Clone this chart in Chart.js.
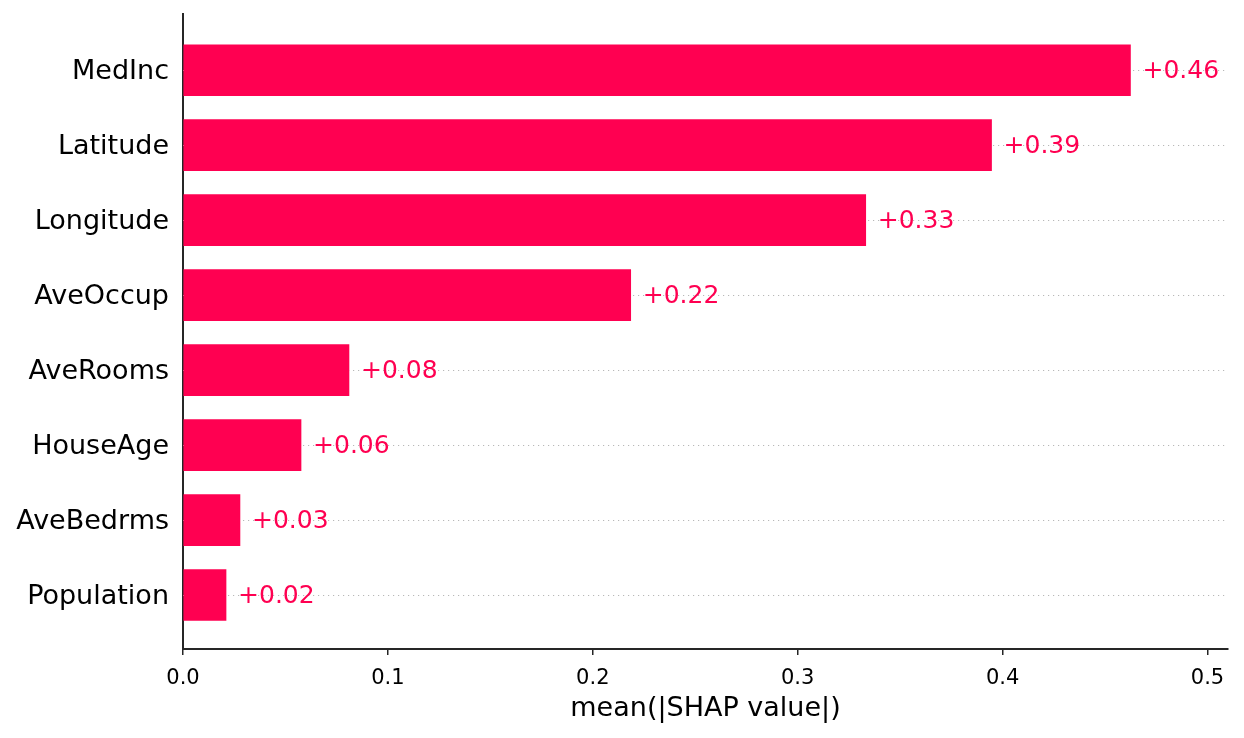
<!DOCTYPE html>
<html>
<head>
<meta charset="utf-8">
<script src="https://cdn.jsdelivr.net/npm/chart.js@4.4.1/dist/chart.umd.min.js"></script>
<style>
  html, body { margin: 0; padding: 0; background: #fff; }
  #wrap { width: 1244px; height: 738px; position: relative; }
</style>
</head>
<body>
<div id="wrap"><canvas id="chart"></canvas></div>
<script>
/* ── data: mean(|SHAP value|) per feature ── */
const FEATURES = ['MedInc', 'Latitude', 'Longitude', 'AveOccup', 'AveRooms', 'HouseAge', 'AveBedrms', 'Population'];
const SHAP_VALUES = [0.4624, 0.3946, 0.3332, 0.2185, 0.0810, 0.0576, 0.0278, 0.0210];
const X_TICKS = [0, 0.1, 0.2, 0.3, 0.4, 0.5];

/* ── styles ── */
const BAR_COLOR  = '#ff0051';
const AXIS_COLOR = '#262626';
const DOT_COLOR  = '#b8b8b8';
const FONT       = "'DejaVu Sans', sans-serif";

/* dotted guide line behind each bar + value text after the bar */
const shapPlugin = {
  id: 'shapPlugin',
  beforeDatasetsDraw(chart) {
    const { ctx, chartArea, scales } = chart;
    ctx.save();
    ctx.strokeStyle = DOT_COLOR;
    ctx.lineWidth = 1;
    ctx.setLineDash([1.2, 3.8]);
    FEATURES.forEach((f, i) => {
      const y = Math.round(scales.y.getPixelForValue(i)) + 0.5;
      ctx.beginPath();
      ctx.moveTo(scales.x.getPixelForValue(0), y);
      ctx.lineTo(chartArea.right, y);
      ctx.stroke();
    });
    ctx.restore();
  },
  afterDatasetsDraw(chart) {
    const { ctx, scales } = chart;
    ctx.save();
    ctx.fillStyle = BAR_COLOR;
    ctx.font = '25px ' + FONT;
    ctx.textAlign = 'left';
    ctx.textBaseline = 'middle';
    SHAP_VALUES.forEach((v, i) => {
      const x = scales.x.getPixelForValue(v) + 12;
      const y = scales.y.getPixelForValue(i) + 1;
      ctx.fillText('+' + v.toFixed(2), x, y);
    });
    ctx.restore();
  }
};

new Chart(document.getElementById('chart'), {
  type: 'bar',
  data: {
    datasets: [{
      data: SHAP_VALUES.map((v, i) => ({ x: v, y: i })),
      backgroundColor: BAR_COLOR,
      borderWidth: 0,
      barThickness: 51,
    }]
  },
  options: {
    indexAxis: 'y',
    responsive: true,
    maintainAspectRatio: false,
    animation: false,
    layout: { padding: { top: 14, right: 16, left: 0, bottom: 0 } },
    plugins: { legend: { display: false }, tooltip: { enabled: false } },
    scales: {
      x: {
        type: 'linear',
        min: 0,
        max: 0.51,
        afterBuildTicks: s => { s.ticks = X_TICKS.map(v => ({ value: v })); },
        afterFit: s => { s.height = 89; },
        grid: { drawOnChartArea: false, drawTicks: true, tickLength: 6, color: AXIS_COLOR, lineWidth: 1.5 },
        border: { display: true, color: AXIS_COLOR, width: 2 },
        ticks: {
          color: '#000',
          padding: 11,
          maxRotation: 0,
          font: { family: FONT, size: 21 },
          callback: v => v.toFixed(1)
        },
        title: {
          display: true,
          text: 'mean(|SHAP value|)',
          color: '#000',
          font: { family: FONT, size: 27 },
          padding: { top: 0, bottom: 13 }
        }
      },
      y: {
        type: 'linear',
        reverse: true,
        offset: false,
        grace: 0,
        min: -0.75,
        max: 7.72,
        afterBuildTicks: s => { s.ticks = FEATURES.map((f, i) => ({ value: i })); },
        afterFit: s => { s.width = 183; s.paddingTop = 0; s.paddingBottom = 0; },
        grid: { display: false, drawTicks: false },
        border: { display: true, color: AXIS_COLOR, width: 2 },
        ticks: {
          color: '#000',
          padding: 14,
          labelOffset: 2,
          font: { family: FONT, size: 27 },
          callback: v => FEATURES[v]
        }
      }
    }
  },
  plugins: [shapPlugin]
});
</script>
</body>
</html>
